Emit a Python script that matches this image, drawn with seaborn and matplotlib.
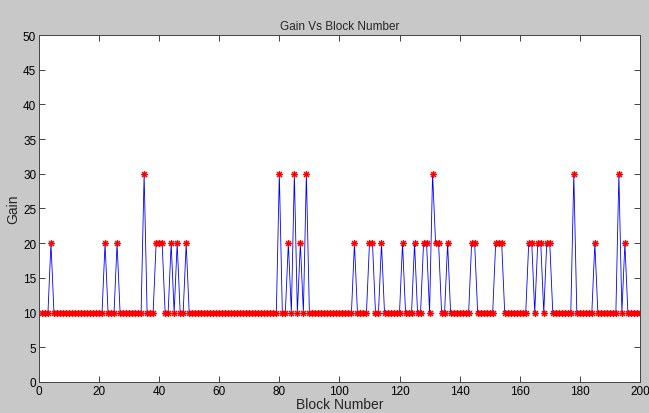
import numpy as np
import pandas as pd
import matplotlib.pyplot as plt
import seaborn as sns

# Block numbers 1..200, gain is 10 except at the listed peaks
blocks = list(range(1, 201))
peaks_20 = [4, 22, 26, 39, 40, 41, 44, 46, 49, 83, 87, 105, 110, 111, 114,
            121, 125, 128, 129, 132, 133, 136, 144, 145, 152, 153, 154,
            163, 164, 166, 167, 169, 170, 185, 195]
peaks_30 = [35, 80, 85, 89, 131, 178, 193]
base_gain = 10

gain = []
for b in blocks:
    if b in peaks_30:
        gain.append(30)
    elif b in peaks_20:
        gain.append(20)
    else:
        gain.append(base_gain)

df = pd.DataFrame({'Block Number': blocks, 'Gain': gain})

sns.set_theme(style="white")
plt.rcParams['font.family'] = ['Liberation Sans Narrow', 'Liberation Sans', 'DejaVu Sans']

fig = plt.figure(figsize=(6.49, 4.14), dpi=100, facecolor='#c8c8c8')
ax = fig.add_axes([0.06, 0.075, 0.926, 0.838])
ax.set_facecolor('white')

# MATLAB-style '*' marker: eight-armed asterisk
sns.lineplot(data=df, x='Block Number', y='Gain', ax=ax, color='#0000ff',
             linewidth=0.6, marker=(8, 2, 0), markersize=5,
             markerfacecolor='red', markeredgecolor='red', markeredgewidth=0.8)

ax.set_xlim(0, 200)
ax.set_ylim(0, 50)
ax.set_xticks(range(0, 201, 20))
ax.set_yticks(range(0, 51, 5))
ax.tick_params(direction='in', length=4, width=0.6, labelsize=8.5,
               top=True, right=True, bottom=True, left=True, pad=2, colors='#222222')
ax.tick_params(labelcolor='black')
for s in ax.spines.values():
    s.set_color('#444444')
    s.set_linewidth(0.7)

ax.set_title('Gain Vs Block Number', fontsize=8.5, pad=4)
ax.set_xlabel('Block Number', fontsize=10, labelpad=0)
ax.set_ylabel('Gain', fontsize=10, labelpad=2)

fig.savefig('out.png', dpi=100, facecolor=fig.get_facecolor())
